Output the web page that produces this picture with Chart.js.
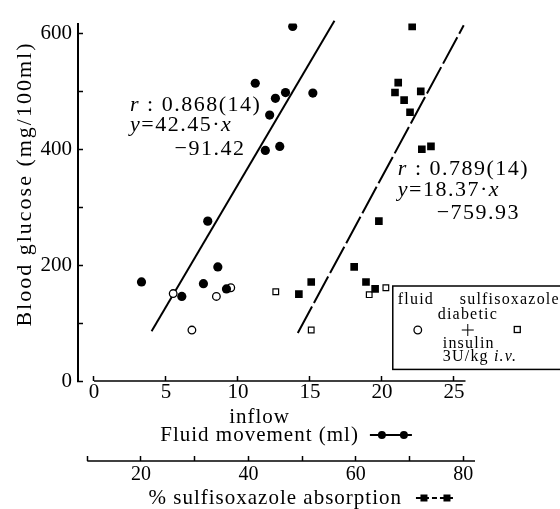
<!DOCTYPE html>
<html>
<head>
<meta charset="utf-8">
<script src="https://cdn.jsdelivr.net/npm/chart.js@4"></script>
<style>
  body { margin: 0; background: #fff; }
</style>
</head>
<body>
<canvas id="myChart" width="560" height="509"></canvas>
<script>
// fluid movement (ml) vs blood glucose (mg/100ml)
const fluidDiabX = [3.3, 6.1, 7.6, 7.9, 8.6, 9.2, 11.2, 11.9, 12.2, 12.6, 12.9, 13.3, 13.8, 15.2];
const fluidDiabY = [171, 146, 168, 276, 197, 159, 514, 398, 459, 488, 405, 498, 612, 497];
const fluidInsX = [5.5, 6.8, 8.5, 9.5];
const fluidInsY = [151, 88, 146, 161];

// % sulfisoxazole absorption vs blood glucose
const sulfDiabX = [49.4, 51.7, 59.7, 61.9, 63.6, 64.3, 67.3, 67.9, 69.0, 70.1, 70.5, 72.1, 72.3, 74.0];
const sulfDiabY = [150, 171, 197, 171, 159, 276, 498, 515, 485, 464, 612, 500, 400, 405];
const sulfInsX = [45.1, 51.7, 62.5, 65.6];
const sulfInsY = [154, 88, 149, 161];

// ends of the regression lines
const fluidFitX = [4.0, 16.7];
const fluidFitY = [86, 622];
const sulfFitX = [49.2, 80.1];
const sulfFitY = [83, 614];

// ticks
const glucoseTicks = [0, 100, 200, 300, 400, 500, 600];
const glucoseLabels = [0, 200, 400, 600];
const fluidTicks = [0, 5, 10, 15, 20, 25];
const sulfTicks = [10, 20, 30, 40, 50, 60, 70, 80];
const sulfLabels = [20, 40, 60, 80];

const serif = "'Liberation Serif', 'Times New Roman', serif";
const pts = (xs, ys) => xs.map((x, i) => ({x: x, y: ys[i]}));

function seg(ctx, x1, y1, x2, y2) {
  ctx.beginPath();
  ctx.moveTo(x1, y1);
  ctx.lineTo(x2, y2);
  ctx.stroke();
}

// draw text made of [text, italic] parts, left to right
function put(ctx, parts, x, y, size, spacing) {
  ctx.letterSpacing = spacing + 'px';
  ctx.textAlign = 'left';
  ctx.textBaseline = 'middle';
  let cx = x;
  parts.forEach(p => {
    ctx.font = (p[1] ? 'italic ' : '') + size + 'px ' + serif;
    ctx.fillText(p[0], cx, y);
    cx += ctx.measureText(p[0]).width;
  });
  return cx;
}

// regression notes, anchored in data units of the fluid / glucose scales
const notes = [
  {x: 2.5, y: 476, parts: [['r', true], [' : 0.868(14)', false]]},
  {x: 2.5, y: 442, parts: [['y', true], ['=42.45·', false], ['x', true]]},
  {x: 5.6, y: 400, parts: [['−91.42', false]]},
  {x: 21.1, y: 366, parts: [['r', true], [' : 0.789(14)', false]]},
  {x: 21.1, y: 329, parts: [['y', true], ['=18.37·', false], ['x', true]]},
  {x: 23.8, y: 290, parts: [['−759.93', false]]}
];

const extras = {
  id: 'extras',
  afterDraw(chart) {
    const ctx = chart.ctx;
    const x = chart.scales.x, x2 = chart.scales.x2, y = chart.scales.y;
    ctx.save();
    ctx.fillStyle = '#000';
    ctx.strokeStyle = '#000';

    // axis lines of the two horizontal scales
    ctx.lineWidth = 1.5;
    seg(ctx, x.getPixelForValue(0), x.top, x.getPixelForValue(25.8), x.top);
    seg(ctx, x2.getPixelForValue(10), x2.top, x2.right, x2.top);

    // y title
    ctx.save();
    ctx.translate(25, y.getPixelForValue(340));
    ctx.rotate(-Math.PI / 2);
    ctx.font = '22px ' + serif;
    ctx.letterSpacing = '2px';
    ctx.textAlign = 'center';
    ctx.textBaseline = 'middle';
    ctx.fillText('Blood glucose (mg/100ml)', 0, 0);
    ctx.restore();

    // fluid axis title + sample
    ctx.font = '21px ' + serif;
    ctx.letterSpacing = '1px';
    ctx.textAlign = 'center';
    ctx.textBaseline = 'middle';
    const cx = x.getPixelForValue(11.5);
    ctx.fillText('inflow', cx, x.top + 36);
    const t1 = 'Fluid movement (ml)';
    ctx.fillText(t1, cx, x.top + 54);
    let m = cx + ctx.measureText(t1).width / 2 + 11;
    ctx.lineWidth = 2;
    seg(ctx, m, x.top + 54, m + 42, x.top + 54);
    [12, 34].forEach(d => {
      ctx.beginPath();
      ctx.arc(m + d, x.top + 54, 4, 0, Math.PI * 2);
      ctx.fill();
    });

    // sulfisoxazole axis title + sample
    const cx2 = x2.getPixelForValue(45);
    const t2 = '% sulfisoxazole absorption';
    ctx.fillText(t2, cx2, x2.top + 37);
    m = cx2 + ctx.measureText(t2).width / 2 + 14;
    ctx.setLineDash([5, 3]);
    seg(ctx, m, x2.top + 37, m + 39, x2.top + 37);
    ctx.setLineDash([]);
    [8, 31].forEach(d => ctx.fillRect(m + d - 3.5, x2.top + 33.5, 7, 7));

    // regression notes
    notes.forEach(n => put(ctx, n.parts, x.getPixelForValue(n.x), y.getPixelForValue(n.y), 22, 1.5));

    // legend box
    const bl = x.getPixelForValue(20.75), bt = y.getPixelForValue(164), bb = y.getPixelForValue(20);
    ctx.lineWidth = 1.5;
    ctx.strokeRect(bl, bt, 200, bb - bt);
    put(ctx, [['fluid', false]], bl + 5, bt + 14, 16, 1.2);
    put(ctx, [['sulfisoxazole', false]], bl + 67, bt + 14, 16, 1.2);
    put(ctx, [['diabetic', false]], bl + 45, bt + 29, 16, 1.2);
    put(ctx, [['insulin', false]], bl + 50, bt + 58, 16, 1.2);
    put(ctx, [['3U/kg', false], [' i.v.', true]], bl + 50, bt + 71, 16, 1.2);
    ctx.lineWidth = 1.3;
    ctx.beginPath();
    ctx.arc(bl + 25, bt + 44, 3.8, 0, Math.PI * 2);
    ctx.stroke();
    ctx.strokeRect(bl + 121.5, bt + 40.5, 6, 6);
    ctx.lineWidth = 1;
    seg(ctx, bl + 69, bt + 44, bl + 81, bt + 44);
    seg(ctx, bl + 75, bt + 38, bl + 75, bt + 50);

    ctx.restore();
  }
};

const data = {
  datasets: [
    {
      label: 'fluid, diabetic',
      data: pts(fluidDiabX, fluidDiabY),
      xAxisID: 'x',
      pointStyle: 'circle', pointRadius: 4.6, pointBorderWidth: 0,
      pointBackgroundColor: '#000'
    },
    {
      label: 'fluid, diabetic + insulin',
      data: pts(fluidInsX, fluidInsY),
      xAxisID: 'x',
      pointStyle: 'circle', pointRadius: 3.8, pointBorderWidth: 1.3,
      pointBackgroundColor: '#fff', pointBorderColor: '#000'
    },
    {
      label: 'sulfisoxazole, diabetic',
      data: pts(sulfDiabX, sulfDiabY),
      xAxisID: 'x2',
      pointStyle: 'rect', pointRadius: 5.4, pointBorderWidth: 0,
      pointBackgroundColor: '#000'
    },
    {
      label: 'sulfisoxazole, diabetic + insulin',
      data: pts(sulfInsX, sulfInsY),
      xAxisID: 'x2',
      pointStyle: 'rect', pointRadius: 4, pointBorderWidth: 1.2,
      pointBackgroundColor: '#fff', pointBorderColor: '#000'
    },
    {
      label: 'fluid fit',
      data: pts(fluidFitX, fluidFitY),
      xAxisID: 'x',
      showLine: true, pointRadius: 0, borderColor: '#000', borderWidth: 2,
      clip: false
    },
    {
      label: 'sulfisoxazole fit',
      data: pts(sulfFitX, sulfFitY),
      xAxisID: 'x2',
      showLine: true, pointRadius: 0, borderColor: '#000', borderWidth: 2,
      borderDash: [30, 4], clip: false
    }
  ]
};

const tickFont = {family: serif, size: 21};

const config = {
  type: 'scatter',
  data: data,
  options: {
    responsive: false,
    animation: false,
    layout: {padding: {top: 17, right: 85, left: 0, bottom: 0}},
    plugins: {legend: {display: false}, tooltip: {enabled: false}},
    scales: {
      y: {
        min: 0, max: 617,
        afterBuildTicks: s => { s.ticks = glucoseTicks.map(v => ({value: v})); },
        afterFit: s => { s.width = 78; },
        ticks: {
          autoSkip: false, color: '#000', font: tickFont, padding: 11,
          callback: v => glucoseLabels.includes(v) ? String(v) : ''
        },
        grid: {drawOnChartArea: false, tickLength: -5, color: '#000', tickWidth: 1.5},
        border: {display: true, color: '#000', width: 2}
      },
      x: {
        position: 'bottom', weight: 0,
        min: -1.11, max: 26.46,
        afterBuildTicks: s => { s.ticks = fluidTicks.map(v => ({value: v})); },
        afterFit: s => { s.height = 80; },
        ticks: {autoSkip: false, maxRotation: 0, color: '#000', font: tickFont, padding: 4},
        grid: {drawOnChartArea: false, tickLength: -5, color: '#000', tickWidth: 1.5},
        border: {display: false}
      },
      x2: {
        type: 'linear', position: 'bottom', weight: 1,
        min: 8.27, max: 82.2,
        afterBuildTicks: s => { s.ticks = sulfTicks.map(v => ({value: v})); },
        afterFit: s => { s.height = 48; },
        ticks: {
          autoSkip: false, maxRotation: 0, color: '#000', font: {family: serif, size: 20}, padding: 7,
          callback: v => sulfLabels.includes(v) ? String(v) : ''
        },
        grid: {drawOnChartArea: false, tickLength: -5, color: '#000', tickWidth: 1.5},
        border: {display: false}
      }
    }
  },
  plugins: [extras]
};

const myChart = new Chart(document.getElementById('myChart'), config);
</script>
</body>
</html>
